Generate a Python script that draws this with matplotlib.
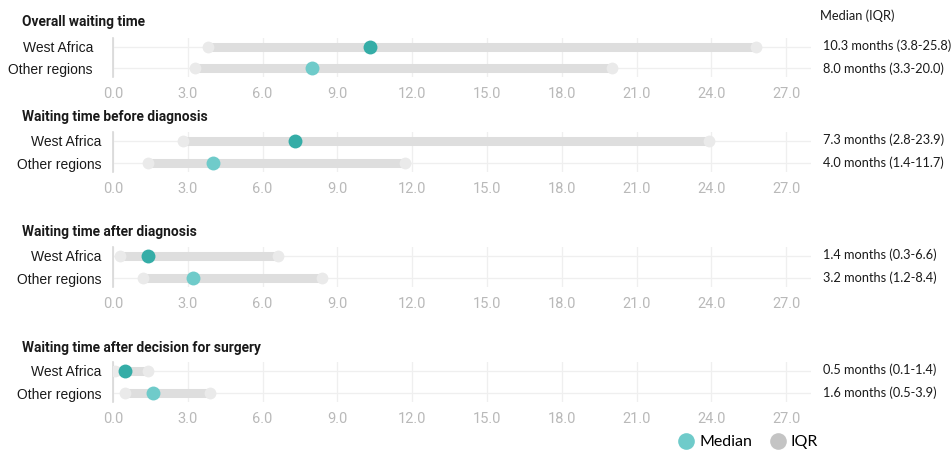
import matplotlib
matplotlib.use("Agg")
import matplotlib.pyplot as plt
from matplotlib.lines import Line2D

# Waiting times (months): median and interquartile range per region
panels = [
    "Overall waiting time",
    "Waiting time before diagnosis",
    "Waiting time after diagnosis",
    "Waiting time after decision for surgery",
]
regions = ["West Africa", "Other regions"]

west_median = [10.3, 7.3, 1.4, 0.5]
west_q1 = [3.8, 2.8, 0.3, 0.1]
west_q3 = [25.8, 23.9, 6.6, 1.4]

other_median = [8.0, 4.0, 3.2, 1.6]
other_q1 = [3.3, 1.4, 1.2, 0.5]
other_q3 = [20.0, 11.7, 8.4, 3.9]

xticks = [0, 3, 6, 9, 12, 15, 18, 21, 24, 27]

median_colors = ["#35ADA7", "#6FCBCA"]
bar_color = "#DEDEDE"
cap_color = "#EAEAEA"
grid_color = "#EFEFEF"
tick_color = "#B9B9B9"

fig = plt.figure(figsize=(9.52, 4.55), dpi=100)

W, H = 952, 455
left_px, right_px = 113, 811
axes_px = [(38, 77), (132, 172), (247, 287), (362, 402)]
title_y = [22, 117, 232, 348]

label_font = ["Liberation Sans", "DejaVu Sans"]
title_font = ["Roboto", "DejaVu Sans"]
tick_font = ["Roboto", "DejaVu Sans"]
note_font = ["Lato", "DejaVu Sans"]

for i, title in enumerate(panels):
    top, bot = axes_px[i]
    ax = fig.add_axes([left_px / W, (H - bot) / H,
                       (right_px - left_px) / W, (bot - top) / H])
    meds = [west_median[i], other_median[i]]
    q1s = [west_q1[i], other_q1[i]]
    q3s = [west_q3[i], other_q3[i]]
    ys = [0, 1]
    for y, lo, hi, med, col in zip(ys, q1s, q3s, meds, median_colors):
        ax.plot([lo, hi], [y, y], color=bar_color, lw=6.5,
                solid_capstyle="butt", zorder=2)
        ax.plot([lo, hi], [y, y], ls="none", marker="o", ms=8.5,
                color=cap_color, mec="none", zorder=3)
        ax.plot([med], [y], ls="none", marker="o", ms=10,
                color=col, mec="none", zorder=4)
    ax.set_xlim(0, 28)
    ax.set_ylim(1.4, -0.4)
    ax.set_xticks(xticks)
    ax.set_xticklabels([f"{t:.1f}" for t in xticks])
    ax.set_yticks(ys)
    ax.set_yticklabels(regions)
    for lab in ax.get_yticklabels():
        lab.set_fontfamily(label_font)
        lab.set_fontsize(10)
        lab.set_color("#1a1a1a")
    for lab in ax.get_xticklabels():
        lab.set_fontfamily(tick_font)
        lab.set_fontsize(10.5)
        lab.set_color(tick_color)
    ax.tick_params(axis="both", length=0)
    ax.tick_params(axis="x", pad=7)
    ax.tick_params(axis="y", pad=8.6 if i else 14.4)
    ax.grid(True, color=grid_color, lw=0.9, zorder=0)
    ax.set_axisbelow(True)
    for s in ["top", "right", "bottom"]:
        ax.spines[s].set_visible(False)
    ax.spines["left"].set_color("#D8D8D8")
    ax.spines["left"].set_linewidth(1.2)

    fig.text(22 / W, (H - title_y[i]) / H, title, fontsize=9.9,
             fontweight="bold", family=title_font, color="#1a1a1a",
             ha="left", va="center")

    for y, med, lo, hi in zip(ys, meds, q1s, q3s):
        fig.text(823 / W, (H - (top + 8 + 23 * y)) / H,
                 f"{med:.1f} months ({lo:.1f}-{hi:.1f})",
                 fontsize=9.2, family=note_font, color="#1a1a1a",
                 ha="left", va="center")

fig.text(820 / W, (H - 16) / H, "Median (IQR)", fontsize=9.3,
         family=note_font, color="#1a1a1a", ha="left", va="center")

handles = [
    Line2D([], [], ls="none", marker="o", ms=12, color=median_colors[1], mec="none"),
    Line2D([], [], ls="none", marker="o", ms=12, color="#C4C4C4", mec="none"),
]
fig.legend(handles, ["Median", "IQR"], loc="center", ncol=2,
           bbox_to_anchor=(748 / W, (H - 442) / H), frameon=False,
           prop={"family": note_font, "size": 11.5}, handletextpad=0.3,
           columnspacing=1.1, handlelength=1.0)

fig.savefig("out.png", dpi=100, facecolor="white")
